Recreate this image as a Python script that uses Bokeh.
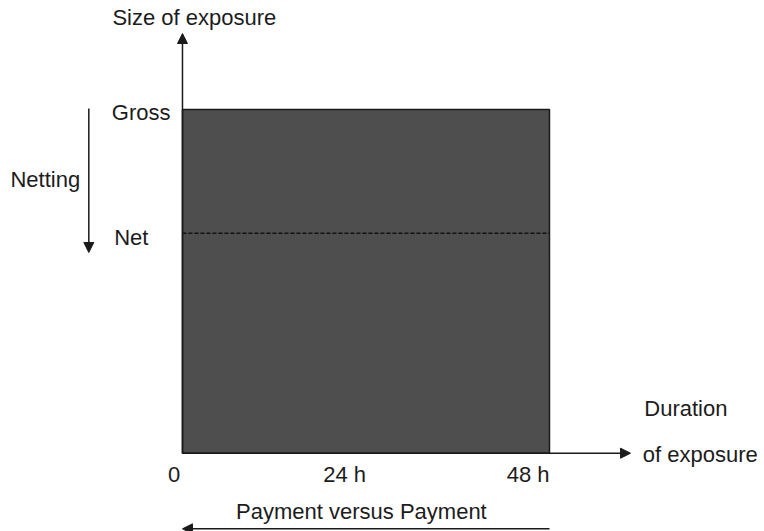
from bokeh.plotting import figure
from bokeh.models import Range1d, Arrow, NormalHead
from bokeh.core.properties import value
from bokeh.embed import file_html
from bokeh.resources import INLINE

# ---- data ----
hours = [0, 24, 48]
hour_labels = ["0", "24 h", "48 h"]
gross = 100
net = 64
y_title = "Size of exposure"
x_title = ["Duration", "of exposure"]
pvp_label = "Payment versus Payment"

FONT = value("Liberation Sans")
TXT = "#1c1c1c"
LINE = "#1a1a1a"
DY = 2.3  # text baseline correction

p = figure(width=764, height=531, output_backend="svg", toolbar_location=None,
           x_range=Range1d(-23.80, 76.12), y_range=Range1d(-22.78, 131.71),
           min_border=0, outline_line_color=None)
p.axis.visible = False
p.grid.visible = False
p.background_fill_color = "white"
p.border_fill_color = "white"

# exposure block
p.quad(left=[hours[0]], right=[hours[-1]], bottom=[0], top=[gross],
       fill_color="#4e4e4e", line_color=LINE, line_width=1.5)
# net level
p.line(x=[hours[0], hours[-1]], y=[net, net], line_color="#111111",
       line_width=1.5, line_dash="4 2")

def arrow(x0, y0, x1, y1):
    p.add_layout(Arrow(end=NormalHead(size=10, fill_color=LINE, line_color=LINE),
                       x_start=x0, y_start=y0, x_end=x1, y_end=y1,
                       line_color=LINE, line_width=1.5))

# axes
arrow(hours[0], 0, hours[0], 122.1)
arrow(hours[0], 0, 58.6, 0)
# netting arrow
arrow(-12.25, 100.3, -12.25, 58.4)
# payment versus payment arrow
arrow(hours[-1], -22.0, hours[0], -22.0)

def txt(x, y, t, align="left"):
    p.text(x=[x], y=[y + DY], text=[t], text_font=FONT, text_font_size="22px",
           text_color=TXT, text_align=align, text_baseline="alphabetic")

txt(-9.16, 124.4, y_title)
txt(-1.57, 96.8, "Gross", "right")
txt(-4.45, 60.4, "Net", "right")
txt(-22.5, 77.3, "Netting")
for h, lab in zip(hours, hour_labels):
    txt(h - 0.3 if h == 0 else h, -8.5, lab, "right")
txt(60.4, 10.7, x_title[0])
txt(60.2, -2.7, x_title[1])
txt(23.4, -19.3, pvp_label, "center")

open("out.html", "w").write(file_html(p, INLINE))
